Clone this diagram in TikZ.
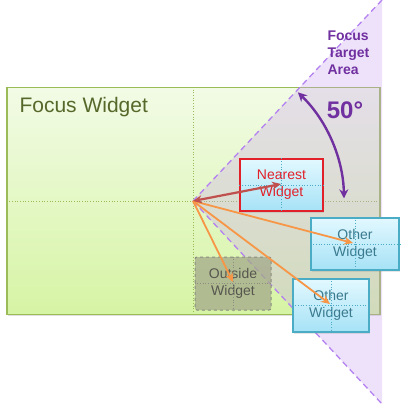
\documentclass[tikz,border=0pt]{standalone}
\usepackage{fontspec}
\setmainfont{Liberation Sans}
\usetikzlibrary{arrows.meta}
\usetikzlibrary{positioning}
\usetikzlibrary{shadows}

\definecolor{fwline}{HTML}{9BBB59}
\definecolor{fwtop}{HTML}{F2FBE6}
\definecolor{fwbot}{HTML}{D6F4A4}
\definecolor{fwtext}{HTML}{56682A}
\definecolor{wline}{HTML}{4BACC6}
\definecolor{wtop}{HTML}{E2F8FF}
\definecolor{wbot}{HTML}{A6E2F6}
\definecolor{wtext}{HTML}{3A7A8E}
\definecolor{nred}{HTML}{E2202A}
\definecolor{xfill}{HTML}{A3A88A}
\definecolor{xline}{HTML}{8C8C80}
\definecolor{xtext}{HTML}{56564E}
\definecolor{tdash}{HTML}{B482F0}
\definecolor{tfill}{HTML}{C8A0F0}
\definecolor{tdark}{HTML}{7030A0}
\definecolor{aorange}{HTML}{F79646}
\definecolor{ared}{HTML}{C0504D}

\tikzset{
  focusbox/.style={draw=fwline, line width=1.2pt, top color=fwtop, bottom color=fwbot,
    drop shadow={opacity=0.25, shadow xshift=1pt, shadow yshift=-1.5pt}},
  widget/.style={draw=wline, line width=1.2pt, top color=wtop, bottom color=wbot,
    text=wtext, align=center, inner sep=0pt, font=\fontsize{14}{17}\selectfont,
    drop shadow={opacity=0.2, shadow xshift=1pt, shadow yshift=-1.5pt}},
  nearest/.style={widget, draw=nred, text=nred},
  outside/.style={draw=xline, dashed, line width=1pt, fill=xfill, fill opacity=0.75,
    text opacity=1, text=xtext, rounded corners=2pt, align=center, inner sep=0pt,
    font=\fontsize{14}{17}\selectfont},
  crossline/.style={dotted, line width=0.7pt},
  dashline/.style={tdash, dashed, line width=1.3pt, dash pattern=on 6pt off 4pt},
  pick/.style={ared, line width=2.2pt, {Stealth[length=9pt,width=8pt]}-{Stealth[length=9pt,width=8pt]}},
  other/.style={aorange, line width=1.8pt, -{Stealth[length=9pt,width=8pt]}},
  angle/.style={tdark, line width=2.4pt, {Stealth[length=9pt,width=9pt]}-{Stealth[length=9pt,width=9pt]}}
}

\begin{document}
\begin{tikzpicture}[x=1pt, y=-1pt]
    \useasboundingbox (0,0) rectangle (404,406);
    % focus widget
    \node[focusbox, minimum width=373pt, minimum height=227pt] (FW) at (193.5,201) {};
    \draw[crossline, fwline] (FW.north) -- (FW.south);
    \draw[crossline, fwline] (FW.west) -- (FW.east);
    \node[anchor=base west, text=fwtext, font=\fontsize{21}{24}\selectfont] (FWL) at (16,113) {Focus Widget};
    % target area
    \coordinate (C) at (193,201);
    \coordinate (TT) at (382,0);
    \coordinate (TB) at (382,404);
    \fill[tfill, opacity=0.3] (C) -- (TT) -- (TB) -- cycle;
    \draw[dashline] (C) -- (TT);
    \draw[dashline] (C) -- (TB);
    \node[anchor=north west, text=tdark, align=left, font=\fontsize{14}{17}\bfseries] (TA) at (324,27) {Focus\\Target\\Area};
    \draw[angle] (C) ++(-46:151) arc[start angle=-46, end angle=-1, radius=151];
    \node[text=tdark, font=\fontsize{24}{28}\bfseries] (DEG) at (345,110) {50°};
    % widgets
    \node[outside, minimum width=76pt, minimum height=53pt] (XW) at (233,283.5) {Outside\\Widget};
    \node[nearest, minimum width=83pt, minimum height=52pt] (NW) at (281.5,185) {Nearest\\Widget};
    \node[widget, minimum width=88pt, minimum height=52pt] (OW1) at (355,244) {Other\\Widget};
    \node[widget, minimum width=76pt, minimum height=53pt] (OW2) at (331,305.5) {Other\\Widget};
    \draw[crossline, xline] (XW.north) -- (XW.south);
    \draw[crossline, xline] (XW.west) -- (XW.east);
    \foreach \w in {NW,OW1,OW2} {
      \draw[crossline, wline] (\w.north) -- (\w.south);
      \draw[crossline, wline] (\w.west) -- (\w.east);
    }
    % distances
    \coordinate (P1) at (353,243);
    \coordinate (P2) at (330,304);
    \coordinate (P3) at (233,282);
    \coordinate (P0) at (281,184);
    \draw[other] (C) -- (P1);
    \draw[other] (C) -- (P2);
    \draw[other] (C) -- (P3);
    \draw[pick] (C) -- (P0);
\end{tikzpicture}
\end{document}
